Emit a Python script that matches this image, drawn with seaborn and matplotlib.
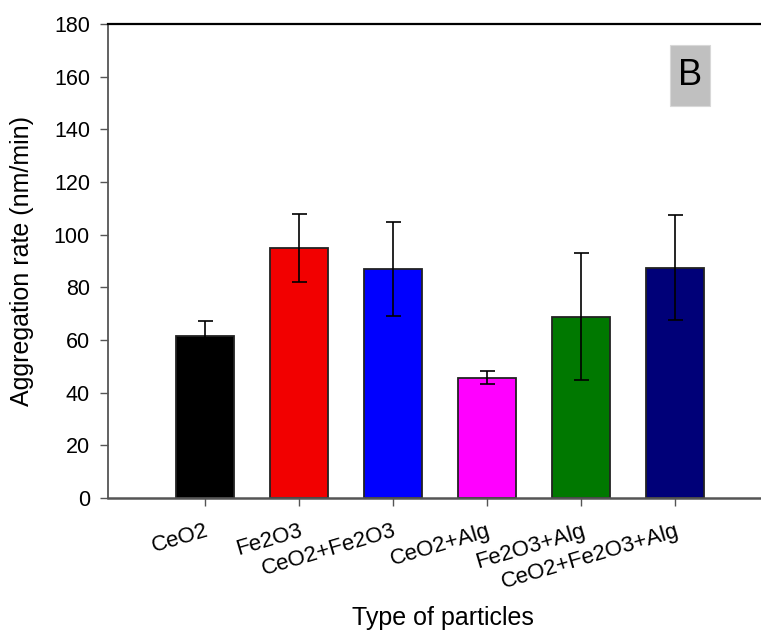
import matplotlib
matplotlib.use('Agg')
import seaborn as sns
from matplotlib import pyplot as plt
from matplotlib.patches import Rectangle
import numpy as np
import pandas as pd

particles = ['CeO2', 'Fe2O3', 'CeO2+Fe2O3', 'CeO2+Alg', 'Fe2O3+Alg', 'CeO2+Fe2O3+Alg']
rate = [61.4, 95.0, 87.0, 45.7, 68.9, 87.5]
err = [6.0, 13.0, 18.0, 2.5, 24.0, 19.8]
colors = ['#000000', '#f20000', '#0000ff', '#ff00ff', '#007800', '#000078']

df = pd.DataFrame({'particle': particles, 'rate': rate})

sns.set_style('ticks')
plt.rcParams['font.family'] = ['Liberation Sans', 'DejaVu Sans']
plt.rcParams['text.color'] = 'black'
plt.rcParams['axes.labelcolor'] = 'black'
plt.rcParams['xtick.labelcolor'] = 'black'
plt.rcParams['ytick.labelcolor'] = 'black'

fig = plt.figure(figsize=(7.61, 6.33), dpi=100)
ax = fig.add_axes([0.1419, 0.2133, 0.8581, 0.7487])

sns.barplot(data=df, x='particle', y='rate', hue='particle', palette=colors,
            saturation=1, errorbar=None, width=0.615, edgecolor='#222222',
            linewidth=1.3, legend=False, ax=ax)
ax.errorbar(np.arange(len(particles)), rate, yerr=err, fmt='none',
            ecolor='black', elinewidth=1.2, capsize=5.4, capthick=1.2)

ax.set_ylim(0, 180)
ax.set_yticks(np.arange(0, 181, 20))
ax.set_xlim(-1.03, 5.91)

ax.spines['right'].set_visible(False)
ax.spines['top'].set_color('black')
ax.spines['top'].set_linewidth(1.6)
ax.spines['left'].set_color('#555555')
ax.spines['bottom'].set_color('#555555')
ax.spines['left'].set_linewidth(1.3)
ax.spines['bottom'].set_linewidth(1.8)

ax.tick_params(axis='y', labelsize=15.5, length=6, width=1, color='#555555', pad=7)
ax.tick_params(axis='x', labelsize=16, length=6, width=1, color='#555555', pad=10)
plt.setp(ax.get_xticklabels(), rotation=16.5, ha='right', rotation_mode='anchor')

ax.set_xlabel('Type of particles', fontsize=18)
ax.xaxis.set_label_coords(0.513, -0.228)
ax.set_ylabel('Aggregation rate (nm/min)', fontsize=18, labelpad=14)

# label box "B"
ax.add_patch(Rectangle((4.947, 148.9), 0.423, 23.1, facecolor='#c0c0c0',
                       edgecolor='#d8d8d8', linewidth=0.8, zorder=3))
ax.text(5.16, 160.4, 'B', fontsize=26, ha='center', va='center', zorder=4)

fig.savefig('out.png', dpi=100)
